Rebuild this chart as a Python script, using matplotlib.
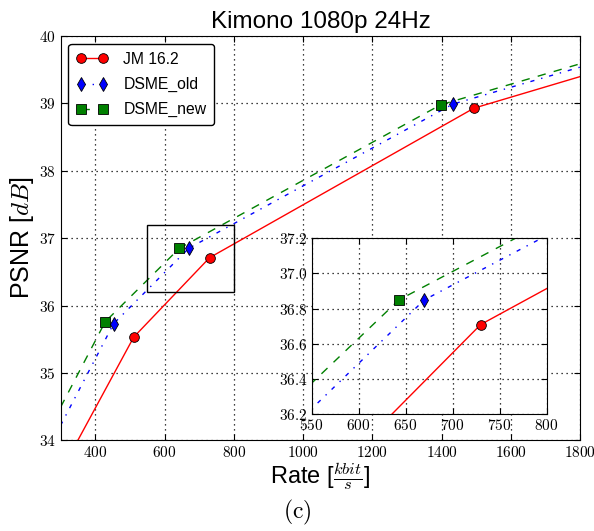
import matplotlib
matplotlib.use('Agg')
import matplotlib.pyplot as plt
from matplotlib.lines import Line2D
from matplotlib.patches import Rectangle
from matplotlib.ticker import FuncFormatter

plt.rcParams['mathtext.fontset'] = 'cm'
plt.rcParams['font.family'] = ['Liberation Sans', 'DejaVu Sans']

# measured RD points (kbit/s, dB)
jm_rate = [511, 730, 1493]
jm_psnr = [35.53, 36.71, 38.93]
old_rate = [453, 670, 1432]
old_psnr = [35.73, 36.85, 38.99]
new_rate = [429, 643, 1397]
new_psnr = [35.76, 36.85, 38.98]

# where each curve leaves the plot area (read at the axis edges)
jm_edge_lo, jm_edge_hi = (350, 34.0), (1800, 39.40)
old_edge_lo, old_edge_hi = (300, 34.22), (1800, 39.54)
new_edge_lo, new_edge_hi = (300, 34.49), (1800, 39.59)

# old-style matplotlib dash patterns
series = [
    ('JM 16.2', jm_rate, jm_psnr, jm_edge_lo, jm_edge_hi, 'r', (None, None), 'o', 7),
    ('DSME_old', old_rate, old_psnr, old_edge_lo, old_edge_hi, 'b', (3, 5, 1, 5), 'd', 7),
    ('DSME_new', new_rate, new_psnr, new_edge_lo, new_edge_hi, 'g', (6, 6), 's', 6.5),
]


def cm_fmt(fmt):
    return FuncFormatter(lambda v, p: '$' + fmt.format(v) + '$')


def style(c, dash):
    kw = dict(color=c, linewidth=1)
    if dash[0] is None:
        kw['linestyle'] = '-'
    else:
        kw['linestyle'] = (0, dash)
    return kw


def draw(ax):
    for label, r, p, lo, hi, c, dash, mk, ms in series:
        ax.plot([lo[0]] + r + [hi[0]], [lo[1]] + p + [hi[1]], **style(c, dash))
        ax.plot(r, p, linestyle='none', marker=mk, color=c, markersize=ms,
                markeredgecolor='k', markeredgewidth=0.6, zorder=3)
    ax.grid(True, color='k', linestyle=(0, (1, 3)), linewidth=0.9)
    ax.tick_params(direction='in', top=True, right=True, length=4)


fig = plt.figure(figsize=(5.94, 5.31), dpi=100)
ax = fig.add_axes([0.102, 0.171, 0.875, 0.761])
draw(ax)
ax.set_xlim(300, 1800)
ax.set_ylim(34, 40)
ax.set_xticks([400, 600, 800, 1000, 1200, 1400, 1600, 1800])
ax.set_yticks([34, 35, 36, 37, 38, 39, 40])
ax.xaxis.set_major_formatter(cm_fmt('{:.0f}'))
ax.yaxis.set_major_formatter(cm_fmt('{:.0f}'))
ax.tick_params(labelsize=11)
ax.set_title('Kimono 1080p 24Hz', fontsize=17.5, pad=6)
ax.set_xlabel(r'Rate [$\frac{kbit}{s}$]', fontsize=17, labelpad=0)
ax.set_ylabel(r'PSNR [$dB$]', fontsize=18, labelpad=2)

handles = [Line2D([], [], marker=mk, markersize=ms, markeredgecolor='k',
                  markeredgewidth=0.6, **style(c, dash))
           for _, _, _, _, _, c, dash, mk, ms in series]
leg = ax.legend(handles, [s[0] for s in series], loc='upper left', numpoints=2,
                fontsize=11.3, fancybox=True, framealpha=1, edgecolor='k',
                handlelength=2.0, borderpad=0.5, labelspacing=0.65, handletextpad=1.0)
leg.get_frame().set_linewidth(1)

ax.add_patch(Rectangle((550, 36.2), 250, 1.0, fill=False, edgecolor='k', linewidth=1, zorder=4))

ins = fig.add_axes([0.5245, 0.2198, 0.3956, 0.3315])
draw(ins)
ins.set_xlim(550, 800)
ins.set_ylim(36.2, 37.2)
ins.set_xticks([550, 600, 650, 700, 750, 800])
ins.set_yticks([36.2, 36.4, 36.6, 36.8, 37.0, 37.2])
ins.xaxis.set_major_formatter(cm_fmt('{:.0f}'))
ins.yaxis.set_major_formatter(cm_fmt('{:.1f}'))
ins.tick_params(labelsize=11, pad=3)

fig.text(0.5, 0.008, r'$\mathrm{(c)}$', ha='center', va='bottom', fontsize=17)

fig.savefig('out.png', dpi=100)
